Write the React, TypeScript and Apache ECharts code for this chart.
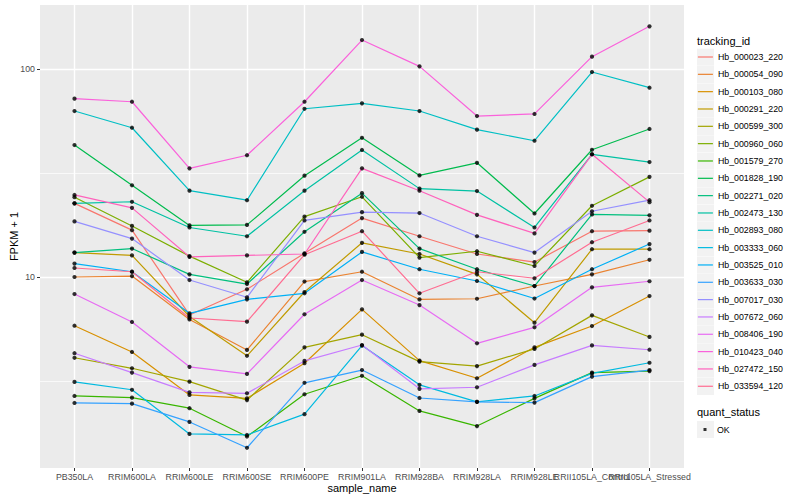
import React, { useEffect, useRef } from 'react';
import * as echarts from 'echarts';

const categories = [
  'PB350LA', 'RRIM600LA', 'RRIM600LE', 'RRIM600SE', 'RRIM600PE', 'RRIM901LA',
  'RRIM928BA', 'RRIM928LA', 'RRIM928LE', 'RRII105LA_Control', 'RRII105LA_Stressed',
];

const trackingIds = [
  'Hb_000023_220', 'Hb_000054_090', 'Hb_000103_080', 'Hb_000291_220', 'Hb_000599_300',
  'Hb_000960_060', 'Hb_001579_270', 'Hb_001828_190', 'Hb_002271_020', 'Hb_002473_130',
  'Hb_002893_080', 'Hb_003333_060', 'Hb_003525_010', 'Hb_003633_030', 'Hb_007017_030',
  'Hb_007672_060', 'Hb_008406_190', 'Hb_010423_040', 'Hb_027472_150', 'Hb_033594_120',
];

const colors = [
  '#F8766D', '#EA8331', '#D89000', '#C09B00', '#A3A500',
  '#7CAE00', '#39B600', '#00BB4E', '#00BF7D', '#00C1A3',
  '#00BFC4', '#00BAE0', '#00B0F6', '#35A2FF', '#9590FF',
  '#C77CFF', '#E76BF3', '#FA62DB', '#FF62BC', '#FF6C91',
];

// FPKM + 1 per sample (same order as categories)
const Hb_000023_220 = [22.6, 16.8, 6.57, 8.73, 13.0, 19.2, 15.7, 12.9, 11.8, 16.6, 16.7];
const Hb_000054_090 = [10.0, 10.1, 6.25, 4.46, 9.51, 10.6, 7.80, 7.86, 9.05, 10.3, 12.1];
const Hb_000103_080 = [5.83, 4.36, 2.71, 2.61, 3.85, 6.99, 3.96, 3.26, 4.59, 5.81, 8.10];
const Hb_000291_220 = [13.1, 12.7, 6.46, 4.18, 8.47, 14.6, 12.9, 10.3, 6.03, 13.6, 13.6];
const Hb_000599_300 = [4.09, 3.64, 3.14, 2.56, 4.59, 5.28, 3.92, 3.73, 4.51, 6.54, 5.15];
const Hb_000960_060 = [24.2, 17.6, 12.6, 9.43, 19.5, 24.3, 12.4, 13.3, 11.3, 22.0, 30.3];
const Hb_001579_270 = [2.68, 2.63, 2.34, 1.71, 2.73, 3.35, 2.27, 1.92, 2.61, 3.47, 3.53];
const Hb_001828_190 = [43.1, 27.6, 17.7, 17.8, 30.7, 46.7, 30.8, 35.4, 20.2, 40.9, 51.5];
const Hb_002271_020 = [13.1, 13.7, 10.3, 9.25, 16.5, 25.3, 13.7, 10.9, 9.05, 20.0, 19.8];
const Hb_002473_130 = [22.6, 23.0, 17.3, 15.7, 26.0, 40.8, 26.6, 25.9, 17.3, 38.9, 35.7];
const Hb_002893_080 = [62.8, 52.2, 26.0, 23.4, 64.4, 68.4, 62.8, 51.1, 45.2, 96.7, 81.3];
const Hb_003333_060 = [3.13, 2.87, 1.76, 1.74, 2.19, 4.68, 3.03, 2.51, 2.68, 3.44, 3.87];
const Hb_003525_010 = [11.6, 10.6, 6.69, 7.81, 8.35, 13.2, 10.9, 9.57, 7.88, 10.9, 14.4];
const Hb_003633_030 = [2.48, 2.46, 2.01, 1.51, 3.10, 3.57, 2.62, 2.51, 2.49, 3.32, 3.57];
const Hb_007017_030 = [18.5, 15.3, 9.67, 7.99, 18.7, 20.5, 20.3, 15.7, 13.1, 20.7, 23.4];
const Hb_007672_060 = [4.30, 3.47, 2.79, 2.76, 3.95, 4.71, 2.90, 2.95, 3.78, 4.69, 4.47];
const Hb_008406_190 = [8.28, 6.08, 3.70, 3.42, 6.62, 9.67, 7.33, 4.80, 5.73, 8.92, 9.54];
const Hb_010423_040 = [72.0, 69.6, 33.3, 38.5, 69.6, 137.8, 103.0, 59.4, 60.8, 114.6, 160.4];
const Hb_027472_150 = [24.8, 21.5, 12.5, 12.7, 12.9, 33.3, 26.0, 19.9, 16.2, 38.9, 22.9];
const Hb_033594_120 = [11.05, 10.6, 6.35, 6.10, 12.8, 16.6, 8.35, 10.6, 9.86, 14.7, 18.7];

const seriesValues = [
  Hb_000023_220, Hb_000054_090, Hb_000103_080, Hb_000291_220, Hb_000599_300,
  Hb_000960_060, Hb_001579_270, Hb_001828_190, Hb_002271_020, Hb_002473_130,
  Hb_002893_080, Hb_003333_060, Hb_003525_010, Hb_003633_030, Hb_007017_030,
  Hb_007672_060, Hb_008406_190, Hb_010423_040, Hb_027472_150, Hb_033594_120,
];

const quantStatus = ['OK'];
const yMajorTicks = [10, 100];
const yMinorTicks = [3.1623, 31.623];
const yMin = 1.207;
const yMax = 203.1;

export default function App() {
  const ref = useRef<HTMLDivElement>(null);

  useEffect(() => {
    document.body.style.margin = '0';
    const chart = echarts.init(ref.current as HTMLDivElement, null, { renderer: 'svg' });
    const font = "'Liberation Sans', Arial, Helvetica, sans-serif";
    const idx = categories.map((_, i) => i);
    // tick labels split over two overlaid axes so that ECharts keeps the overlapping ones
    const labelsA = idx.filter((i) => i % 2 === 0);
    const labelsB = idx.filter((i) => i % 2 === 1);

    const lineSeries = trackingIds.map((name, s) => ({
      name,
      type: 'line',
      xAxisIndex: 0,
      yAxisIndex: 0,
      symbol: 'none',
      silent: true,
      z: 3,
      lineStyle: { color: colors[s], width: 1.2 },
      itemStyle: { color: colors[s] },
      data: seriesValues[s].map((v, i) => [i, v]),
    }));

    const points: number[][] = [];
    seriesValues.forEach((vals) => vals.forEach((v, i) => points.push([i, v])));

    const legendText = { fontSize: 8.8, color: '#000000', fontFamily: font };
    const tickLine = { color: '#333333', width: 1 };
    const xLabelStyle = {
      formatter: (v: number) => categories[Math.round(v)] ?? '',
      fontSize: 8.8, color: '#4D4D4D', margin: 4.5, fontFamily: font,
      hideOverlap: false, showMinLabel: true, showMaxLabel: true,
    };

    const option = {
      animation: false,
      textStyle: { fontFamily: font },
      grid: {
        left: 40, top: 5, width: 644, height: 463,
        show: true, backgroundColor: '#EBEBEB', borderWidth: 0,
        containLabel: false, outerBoundsMode: 'none',
      },
      title: [
        { text: 'tracking_id', left: 697, top: 35.5, padding: 0,
          textStyle: { fontSize: 11, fontWeight: 'normal', color: '#000000', fontFamily: font } },
        { text: 'quant_status', left: 697, top: 406.5, padding: 0,
          textStyle: { fontSize: 11, fontWeight: 'normal', color: '#000000', fontFamily: font } },
      ],
      legend: [
        {
          orient: 'vertical', left: 697, top: 48.7, padding: 0, itemGap: 0.33,
          itemWidth: 17, itemHeight: 17, icon: 'rect', selectedMode: false, z: 2,
          formatter: () => '',
          itemStyle: { color: '#F2F2F2', borderWidth: 0, borderColor: 'transparent', opacity: 1 },
          data: trackingIds,
        },
        {
          orient: 'vertical', left: 697.3, top: 50.2, padding: 0, itemGap: 3.73,
          itemWidth: 15, itemHeight: 17, selectedMode: false, z: 3,
          itemStyle: { opacity: 0 },
          lineStyle: { width: 1.2 },
          textStyle: legendText,
          data: trackingIds,
        },
        {
          orient: 'vertical', left: 697, top: 421, padding: 0,
          itemWidth: 17, itemHeight: 17, icon: 'rect', selectedMode: false, z: 2,
          formatter: () => '',
          itemStyle: { color: '#F2F2F2', borderWidth: 0, borderColor: 'transparent', opacity: 1 },
          data: quantStatus,
        },
        {
          orient: 'vertical', left: 697, top: 421, padding: 0,
          itemWidth: 15, itemHeight: 17, selectedMode: false, z: 3,
          icon: 'path://M0 0M15 17M6.5 7h3v3h-3z',
          itemStyle: { color: '#000000', borderWidth: 0 },
          textStyle: legendText,
          data: quantStatus,
        },
      ],
      xAxis: [
        {
          type: 'value', min: -0.6, max: 10.6, position: 'bottom',
          name: 'sample_name', nameLocation: 'middle', nameGap: 14, nameMoveOverlap: false,
          nameTextStyle: { fontSize: 11, color: '#000000', fontFamily: font },
          axisLine: { show: false, onZero: false },
          axisTick: { show: true, customValues: idx, length: 3, lineStyle: tickLine },
          axisLabel: { ...xLabelStyle, customValues: labelsA },
          splitLine: { show: true, lineStyle: { color: '#FFFFFF', width: 1.4 } },
          minorSplitLine: { show: false },
        },
        {
          type: 'value', min: -0.6, max: 10.6, position: 'bottom', offset: 0,
          axisLine: { show: false, onZero: false },
          axisTick: { show: false, customValues: labelsB },
          axisLabel: { ...xLabelStyle, customValues: labelsB },
          splitLine: { show: false },
          minorSplitLine: { show: false },
        },
      ],
      yAxis: {
        type: 'log', logBase: 10, min: yMin, max: yMax, position: 'left',
        name: 'FPKM + 1', nameLocation: 'middle', nameGap: 21, nameMoveOverlap: false,
        nameTextStyle: { fontSize: 11, color: '#000000', fontFamily: font },
        axisLine: { show: false, onZero: false },
        axisTick: { show: true, customValues: yMajorTicks, length: 3, lineStyle: tickLine },
        axisLabel: {
          customValues: yMajorTicks,
          formatter: (v: number) => String(Math.round(v)),
          fontSize: 8.8, color: '#4D4D4D', margin: 5, fontFamily: font,
          hideOverlap: false,
        },
        splitLine: { show: true, lineStyle: { color: '#FFFFFF', width: 1.4 } },
        minorSplitLine: { show: false },
      },
      series: [
        {
          name: 'minor-grid', type: 'line', data: [], silent: true, z: 1,
          markLine: {
            silent: true, z: 1, symbol: ['none', 'none'], label: { show: false },
            lineStyle: { color: '#FFFFFF', width: 0.7, type: 'solid', opacity: 1 },
            emphasis: { disabled: true },
            data: yMinorTicks.map((v) => ({ yAxis: v })),
          },
        },
        ...lineSeries,
        {
          name: 'OK', type: 'scatter', xAxisIndex: 0, yAxisIndex: 0,
          symbol: 'circle', symbolSize: 4.2, silent: true, z: 10,
          itemStyle: { color: '#000000' },
          data: points,
        },
      ],
    };

    chart.setOption(option as any);
    return () => chart.dispose();
  }, []);

  return <div ref={ref} style={{ width: 800, height: 500 }} />;
}
